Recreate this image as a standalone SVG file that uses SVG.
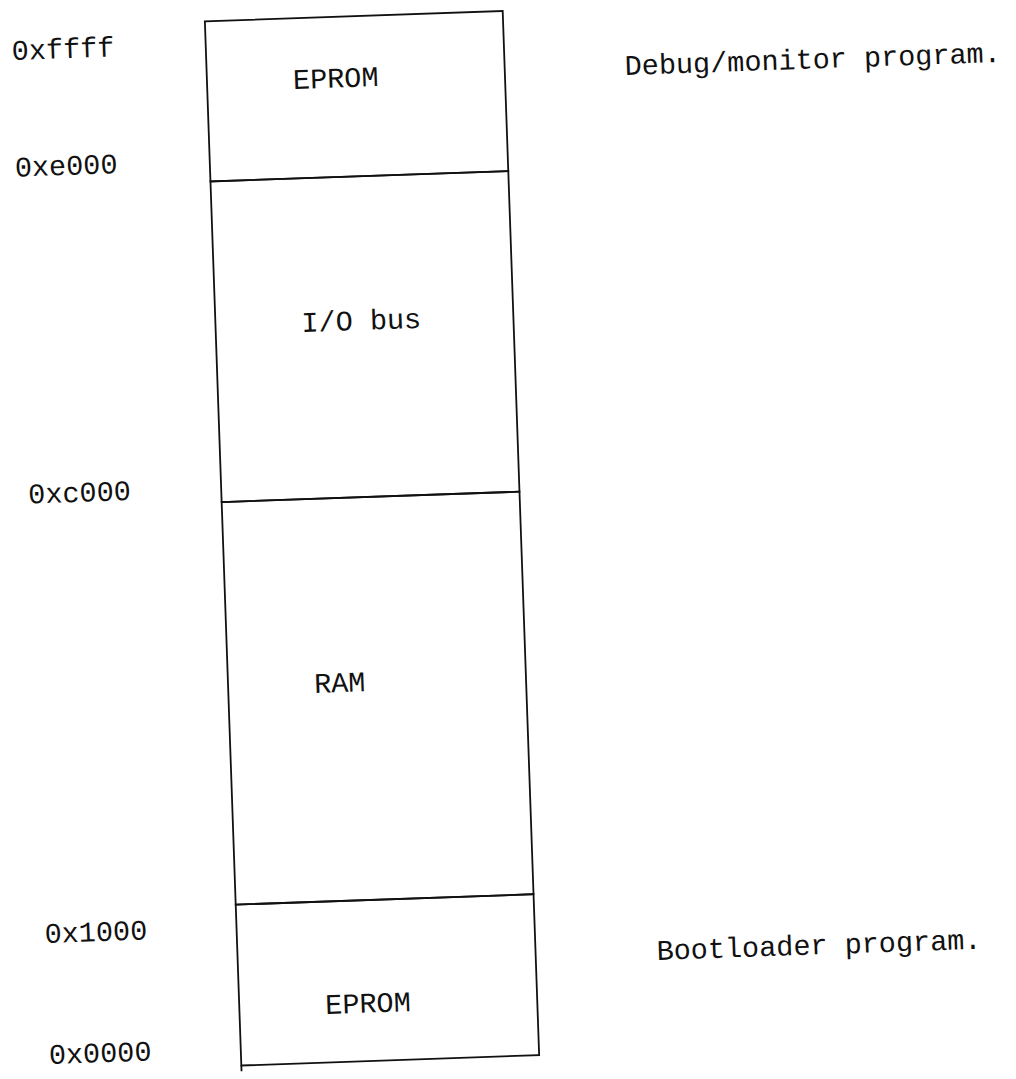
<svg xmlns="http://www.w3.org/2000/svg" width="1016" height="1079" viewBox="0 0 1016 1079">
  <style>
    .box { fill: none; stroke: #111; stroke-width: 1.8; }
    .edge { fill: none; stroke: #111; stroke-width: 1.8; }
    text { font-family: "Liberation Mono", "DejaVu Sans Mono", monospace; font-size: 28.5px; fill: #111; }
  </style>
  <rect x="0" y="0" width="1016" height="1079" fill="#ffffff"/>
  <g transform="rotate(-2)">
    <g id="connectors"/>
    <g id="region-eprom-high">
      <rect class="box" x="204" y="28.5" width="298" height="160.2"/>
      <text x="290" y="99.2">EPROM</text>
    </g>
    <g id="region-io-bus">
      <rect class="box" x="204" y="188.7" width="298" height="320.8"/>
      <text x="290" y="342.3">I/O bus</text>
    </g>
    <g id="region-ram">
      <rect class="box" x="204" y="509.5" width="298" height="402.8"/>
      <text x="290" y="703.5">RAM</text>
    </g>
    <g id="region-eprom-low">
      <rect class="box" x="204" y="912.3" width="298" height="161"/>
      <line class="edge" x1="204" y1="1073" x2="204" y2="1079"/>
      <text x="290" y="1024.8">EPROM</text>
    </g>
    <g id="address-labels">
      <text id="addr-ffff" x="10" y="60.4">0xffff</text>
      <text id="addr-e000" x="9" y="177.1">0xe000</text>
      <text id="addr-c000" x="11" y="504.3">0xc000</text>
      <text id="addr-1000" x="12" y="944">0x1000</text>
      <text id="addr-0000" x="12" y="1065.1">0x0000</text>
    </g>
    <g id="annotations">
      <text id="note-debug" x="622" y="96.8">Debug/monitor program.</text>
      <text id="note-boot" x="623" y="982.3">Bootloader program.</text>
    </g>
  </g>
</svg>
